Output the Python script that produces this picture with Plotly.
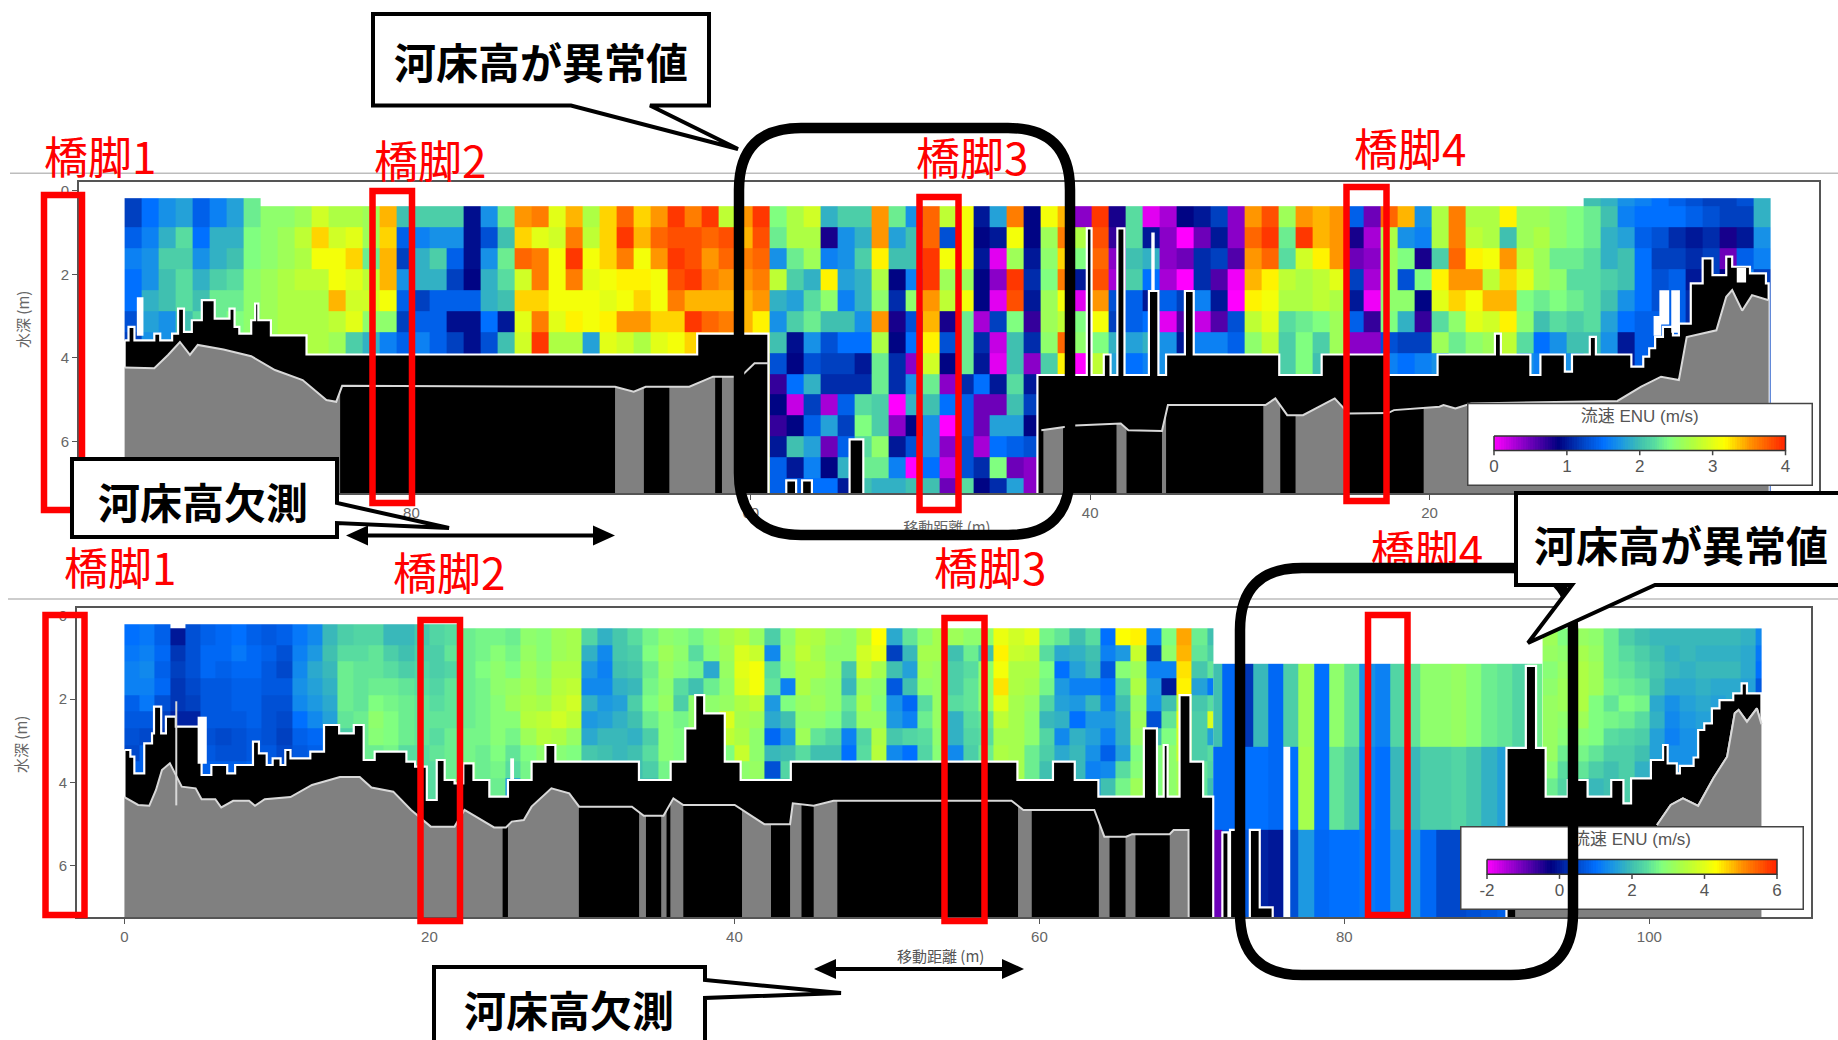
import numpy as np
import plotly.graph_objects as go

W, H = 1838, 1040

# ---------- upper panel: speed columns listed left to right (m/s), 1 m wide, rows 0.5 m
top_cols = [
 [1.2,1.4,1.6,1.5,1.5,1.3,1.2],[1.5,1.6,1.7,1.7,1.9,1.8,1.7],[1.7,1.9,2.1,2.0,2.0,1.7,1.7],[1.8,2.2,2.1,2.2,2.2,2.0,2.0],
 [1.4,1.5,1.7,1.9,2.0,2.2,2.2],[1.6,1.9,1.9,2.1,2.3,2.3,2.3],[1.8,1.9,2.0,2.2,2.3,2.4,2.4],[2.3,2.4,2.4,2.5,2.5,2.5,2.5],
 [2.5,2.5,2.5,2.6,2.6,2.6,2.6],[2.5,2.6,2.6,2.7,2.7,2.7,2.7],[2.6,2.8,2.7,2.8,2.7,2.7,2.7],[2.9,3.3,3.1,2.8,2.7,2.7,2.7],
 [2.7,2.9,3.1,3.1,3.4,2.8,2.6],[2.7,3.0,3.3,3.0,2.9,3.0,2.1],[2.6,2.6,2.3,2.8,2.9,2.5,1.9],[3.4,3.3,3.4,3.4,3.1,2.5,1.6],
 [2.0,1.4,1.2,1.7,1.4,1.2,1.4],[2.1,1.6,1.9,1.9,1.2,1.4,1.6],[2.1,1.7,2.1,1.9,1.4,1.4,1.4],[2.1,1.7,1.4,1.2,1.4,.95,1.2],
 [.95,.95,.95,.9,1.4,.95,.95],[1.7,1.3,1.7,1.9,1.9,1.5,1.3],[2.3,2.0,2.3,2.2,2.0,1.0,2.0],[3.5,3.3,3.7,2.9,3.3,3.0,2.9],
 [3.6,3.0,3.6,3.6,3.3,3.6,3.9],[3.0,2.9,3.1,3.1,3.1,3.0,2.7],[3.4,3.6,3.9,3.6,3.1,3.2,2.7],[2.7,2.8,3.1,3.0,3.1,3.1,1.8],
 [3.3,3.3,3.3,3.1,3.0,3.2,3.0],[3.7,3.9,3.6,3.2,3.1,3.5,2.9],[3.3,3.4,3.1,3.2,3.3,3.5,2.7],[3.5,3.7,3.5,3.1,3.1,3.3,3.0],
 [3.9,3.8,3.9,3.8,3.6,3.3,3.1],[3.6,3.8,3.8,3.9,3.4,3.9,3.3],[3.9,3.7,3.5,3.6,3.4,3.7,3.4],[2.8,3.8,3.7,3.5,3.4,3.6,3.4],
 [3.5,3.4,3.6,3.5,3.4,3.4,3.4],[3.9,3.8,3.7,3.6,3.5,3.2,3.2],
 [2.4,2.3,1.7,2.8,1.9,1.7,2.0,1.3,.7,.9,.7,1.0,1.4,1.4],[2.7,2.7,2.3,2.1,1.8,2.1,.95,.9,1.5,.2,.9,2.0,1.0,1.4],
 [2.9,2.7,2.6,1.9,2.2,2.3,1.7,1.3,1.9,1.2,1.4,1.8,1.6,1.5],[1.9,.8,1.6,3.2,2.5,2.0,1.3,1.2,1.1,.3,1.8,.5,.9,1.5],
 [2.1,1.7,1.7,1.8,1.6,2.0,1.5,1.2,1.1,1.4,1.2,1.4,1.9,1.0],[2.1,1.9,2.1,1.9,1.9,1.7,1.5,1.0,1.1,2.2,2.4,2.2,2.3,2.0],
 [3.5,3.5,3.2,2.7,2.5,3.5,2.7,2.3,2.3,2.1,2.1,2.5,2.3,1.9],[2.3,1.8,2.0,.9,1.1,.8,.9,1.1,1.1,0,.4,1.0,1.6,1.9],
 [1.7,2.0,2.0,1.6,2.5,1.3,1.5,.4,1.7,1.9,.9,1.3,0,2.0],[3.7,3.7,3.9,3.9,3.5,3.4,3.2,2.9,2.3,2.0,1.7,1.7,1.5,2.0],
 [2.8,1.3,3.1,2.6,2.8,.8,1.3,.9,.4,1.5,0,.4,.2,.5],[3.1,3.1,3.1,2.6,3.1,2.3,2.3,2.3,1.1,1.4,1.4,1.3,1.3,2.2],
 [1.0,.9,1.0,.9,.9,.3,1.1,1.0,1.5,.5,.5,.3,1.1,.9],[1.8,1.0,.1,.4,.1,1.2,.2,.1,1.0,.5,1.8,1.5,2.4,1.1],
 [3.6,3.1,2.6,3.9,3.8,2.4,2.0,2.0,2.2,2.0,1.8,1.4,.5,1.8],[.9,.9,1.0,1.1,1.0,.7,1.1,.4,1.0,1.2,.9,1.3,.4,.4],
 [3.1,2.6,2.5,2.4,2.6,2.6,2.5,2.1],[3.4,3.6,3.3,3.6,3.1,2.8,3.7,3.2],[.4,2.7,2.4,1.0,.1,2.4,2.5,0.0],
 [3.9,3.8,3.7,3.8,3.5,3.1,2.4,2.8],[.8,.7,.4,.3,1.3,1.2,1.9,1.8],[2.2,2.2,2.0,2.1,1.4,1.4,1.8,1.5],
 [.1,1.0,1.9,1.5,1.0,1.5,1.9,1.6],[.3,.4,.4,.3,1.4,.1,1.7,1.7],[.9,.0,.5,.0,1.2,.6,1.0,1.7],[1.0,.5,1.1,1.1,1.6,.2,1.6,1.7],
 [1.2,1.0,1.2,.6,1.0,.6,1.6,1.8],[.4,.4,.6,.05,.0,1.3,1.4],[3.5,3.7,3.5,3.4,3.2,2.8,2.5],[3.8,3.9,3.7,3.2,3.1,3.0,2.8],
 [2.6,2.3,2.2,2.8,2.7,2.2,2.1,2.1],[3.5,3.9,2.9,2.7,2.7,2.3,2.4,2.4],[3.4,3.4,3.2,2.8,2.8,2.4,2.1,2.0],[3.5,3.5,3.5,3.0,2.7,2.6,2.6],
 [1.4,.8,.5,1.2,1.0,1.4,.4],[.5,.3,.4,.3,.05,.7,.4],[3.7,2.7,2.6,2.6,2.5,2.4,1.3,1.6],[3.4,1.7,2.4,1.3,2.5,1.9,1.2,1.5],
 [1.7,1.6,.8,2.4,.9,.7,1.2,1.6],[2.7,2.7,2.1,3.2,3.0,2.2,2.6,1.7],[3.6,3.6,3.7,3.5,3.3,2.5,2.3],[2.7,2.8,3.2,3.5,3.1,3.0,2.5],
 [2.7,2.7,3.1,2.8,3.4,2.9,2.6],[3.2,2.0,3.5,3.3,3.4,3.2,2.8],[2.6,2.6,2.8,3.0,2.4,2.5,2.2,1.7],[2.6,2.7,2.6,2.6,2.3,2.0,1.5,1.6],
 [2.5,2.5,2.3,2.5,2.4,2.2,1.7],[2.4,2.4,2.3,2.2,2.3,2.1,2.0,1.7],[2.3,2.3,2.2,2.2,2.2,2.2,2.0],[2.0,1.9,1.9,2.1,2.0,1.8,1.7],
 [1.6,1.8,2.0,2.0,1.7,1.5,1.0],[1.5,1.4,1.5,1.5,1.5,1.4,1.4,1.4],[1.5,1.3,1.2,1.3,1.3,1.4],[1.5,1.1,1.2,1.4,1.4],
 [1.4,1.0,1.1,1.0,1.1],[1.3,1.1,1.2,1.2],[1.2,.8,.5,.9],[1.2,1.0,1.4,1.6],[1.9,1.7,1.6,1.2],
]
top_extra_left = [1.2,1.5,1.7,1.8,1.4,1.6,1.8,2.3]
top_extra_right = [2.0,1.9,1.7,1.6,1.5,1.4,1.3,1.2,1.2,1.3,1.9]
# positions below are metres from the left end of the upper run
top_mask_pos = [0,.23,.58,1.75,2.1,2.8,3.15,3.5,3.96,4.55,5.31,6.18,6.48,6.76,7.46,7.69,7.88,8.62,10.72,33.74,37.94,38.99,39.57,39.92,40.5,42.72,43.53,53.79,56.7,56.98,57.7,58.1,58.5,58.92,60.36,60.92,61.37,62.48,63.0,68.04,70.54,74.45,77.37,80.75,81.1,82.84,83.43,84.87,85.29,86.34,86.7,88.79,89.49,89.84,90.19,90.65,91.24,91.59,92.29,92.99,93.57,94.38,94.73,95.78,96.72,96.88]
top_mask_depth = [3.58,3.26,3.58,3.42,3.58,3.42,2.82,3.38,3.1,2.62,3.06,2.82,3.26,3.42,3.1,2.7,3.1,3.46,3.92,3.42,7.5,6.93,7.5,6.93,7.5,5.95,7.5,4.41,.9,4.41,3.92,4.41,.9,4.41,2.4,4.41,3.92,2.4,3.92,4.41,3.92,4.41,3.92,3.42,3.92,4.41,3.92,4.33,3.92,3.5,3.92,4.21,3.97,3.77,3.5,3.26,3.46,3.18,2.22,1.62,2.02,1.58,1.82,1.98,2.22]
top_bed_pos1 = [0,1.75,2.56,3.26,3.85,4.31,5.83,7.46,8.86,10.49,11.89,12.47,12.82,28.9,30.0,30.71,33.28,34.67,36.3,37.12,37.94]
top_bed_d1 = [4.23,4.25,3.93,3.62,3.93,3.69,3.8,3.96,4.29,4.53,5.01,5.05,4.67,4.69,4.81,4.69,4.69,4.45,4.45,4.13,4.13]
top_bed_pos2 = [54.02,55.19,56,58.7,59.15,61.13,61.48,67.23,67.81,68.51,69.44,71.31,72.12,74.45,74.8,77.48,77.72,78.42,79.35,87.97,89.37,90.54,91.59,92.05,93.8,94.38,94.73,95.32,95.9,96.88]
top_bed_d2 = [5.73,5.66,5.62,5.57,5.73,5.75,5.13,5.13,4.97,5.37,5.37,4.97,5.33,5.32,5.25,5.17,5.13,5.21,5.09,5.03,4.69,4.45,4.53,3.5,3.34,2.54,2.38,2.87,2.5,2.62]
top_gray = [(0,12.7),(28.9,30.6),(32.1,34.8),(35.2,36.5),(54.14,55.3),(58.45,59.04),(61.13,61.37),(67.1,68.1),(69,72.1),(76.55,96.88)]
top_white = [(.72,1.11,2.55,3.47),(60.5,60.7,1.0,2.38),(90.1,90.55,3.0,3.47),(90.44,91.02,2.38,3.2),(91.14,91.65,2.38,3.4),(95.0,95.55,1.85,2.2)]

# ---------- lower panel
bot_cols = [
 [1.0,1.1,1.2,1.2,.8,.7,.6,.5,.8],[1.1,1.2,1.3,1.2,1.1,.7,.5,.8,.8],[.8,.9,.8,.9,.6,.4,.3,.3],[0,.3,.4,.3,.3,.1,0,0],[.6,.6,.6,.5,.4,.1,.1],
 [.8,.9,.9,.7,.7,.7,.6,.7,.8],[.9,.9,.8,.7,.7,.7,.5,.6,.8],[1.0,1.1,.9,.8,.8,.7,.6,.6,.8],[.8,.9,.9,.8,.8,.8,.7,.7,.9],[.7,.8,.7,.7,.6,.6,.6,.7,.8],
 [.8,.6,.5,.7,.6,.5,.4,.5,.6],[1.1,1.2,1.3,1.4,1.3,1.0,.8,.7,.7],[1.3,1.5,1.7,1.6,1.5,1.3,.9,.8],[1.9,2.0,1.9,1.8,1.7,1.6,1.2],[2.2,2.4,2.6,2.6,2.6,2.5,2.2],
 [2.3,2.4,2.5,2.5,2.5,2.6,2.6],[2.3,2.5,2.5,2.6,2.8,3.0,2.9,2.6],[1.9,2.2,2.4,2.6,2.7,2.8,2.8,2.7],[1.9,2.0,2.2,2.5,2.6,2.6,2.6,2.4,2.3],[2.1,2.2,2.3,2.4,2.5,2.5,2.5,2.4,2.4],
 [2.3,2.2,2.2,2.3,2.4,2.5,2.4,2.5,2.4],[2.4,2.5,2.3,2.5,2.5,2.5,2.6,2.6,2.6,2.7],[2.6,2.6,2.6,2.6,2.6,2.6,2.7,2.7,2.8,2.7],[2.7,2.7,2.8,2.7,2.7,2.7,2.7,2.6,2.6,2.6,2.6],[2.7,2.9,3.0,3.0,2.9,2.9,2.9,2.8,2.7,2.6,2.6],
 [2.6,2.7,2.8,3.1,3.2,2.9,2.7,2.5,2.4,1.5],[3.0,3.1,3.2,3.3,3.4,3.5,3.2,2.8,2.7],[2.9,2.9,3.0,3.1,3.3,3.6,3.5,3.0,2.4],[3.2,3.2,3.4,3.5,3.6,3.8,3.4,2.9,2.5],[3.3,3.3,3.4,3.6,3.8,3.6,3.1,2.8,2.5],
 [2.3,1.8,1.5,1.3,1.8,1.5,1.7,2.1,1.8],[1.8,1.3,1.2,1.3,1.5,1.6,1.9,2.0,2.0],[2.1,2.1,2.0,1.8,1.6,1.8,1.9,1.9,2.0],[2.4,2.2,2.1,1.9,2.2,2.0,1.8,2.0,2.0,2.1],[2.7,2.8,2.6,2.7,2.8,2.6,2.2,2.4,2.2,2.0],
 [3.0,3.2,3.1,3.0,3.1,2.9,2.9,2.9,2.7,2.7],[2.9,3.0,2.9,2.4,2.2,2.7,2.8,2.8],[2.7,2.4,2.7,2.0,3.0,3.0],[3.0,2.9,1.7,2.6,3.0,3.0],[3.3,3.2,3.1,3.0,3.1,3.9,3.6,2.8],
 [3.5,3.9,4.0,3.9,3.4,3.3,3.4,3.7,3.0],[3.1,3.7,4.2,4.2,3.6,3.2,3.0,3.0,3.1,3.0],[2.2,1.3,2.4,2.5,1.5,1.7,.9,1.9,.6,1.5],[3.0,3.1,3.0,1.2,2.8,2.0,1.5,2.0,2.3,2.2],[3.5,3.6,3.4,3.4,3.1,3.0,3.2,2.4],
 [3.4,3.3,3.4,3.1,3.2,3.0,2.5,2.0],[3.1,3.0,3.1,3.0,3.0,2.8,2.3,2.0],[3.0,3.0,2.1,1.9,2.5,2.3,1.2,1.0],[3.5,3.8,3.7,3.1,3.3,3.1,2.3,2.4],[4.3,4.1,3.3,3.0,2.9,3.1,3.4,3.5],
 [1.7,.4,2.0,.7,1.4,1.5,2.1,1.3],[2.5,1.9,1.6,2.0,.9,1.2,2.3,1.0],[3.0,3.3,3.2,3.0,2.4,2.6,2.4,2.3],[3.3,3.3,3.1,3.1,3.1,3.1,3.0,2.9],[3.2,2.0,2.2,2.2,2.4,1.8,1.8,1.3],
 [3.0,2.6,2.4,2.5,2.5,2.4,2.3,2.2],[3.0,2.0,3.0,3.0,3.0,2.5,2.4,2.6],[4.1,4.4,4.2,4.5,4.0,3.6,3.3,3.4],[3.8,3.7,3.4,3.4,3.3,3.3,3.3,3.3],[4.0,3.6,3.4,3.3,3.1,3.0,3.0,2.6,2.6],
 [2.7,2.4,2.8,2.7,2.3,1.9,2.3,2.2,2.0],[2.5,1.7,1.0,1.5,1.6,1.8,1.3,1.7,1.9],[2.0,1.8,1.6,1.2,1.5,1.0,1.8,1.9,1.9],[2.4,2.0,1.9,1.2,1.9,1.5,1.6,1.4,1.2,1.3],[1.0,1.2,.7,1.0,1.2,1.5,1.2,.8,1.3,2.0],
 [4.3,1.5,2.9,2.3,2.0,1.8,1.8,1.6,2.4,2.7],[4.4,3.7,3.2,3.4,3.1,3.2,3.1,2.8,2.9,3.2],[1.2,.4,1.2,1.5,1.4,.6,2.0,2.8,2.8,2.8],[2.8,3.0,1.2,0,2.0,2.5,2.8,3.0],[4.9,4.8,4.5,4.4,3.6,4.1,3.8,3.7,3.3],
 [2.6,2.5,2.1,1.6,2.1,2.2,2.2,2.2,2.5],[2.0,2.2,2.5,1.1,2.4,3.9,1.6,2.4,2.3,2.0],[4.2,3.8,3.1,2.4,2.4,2.4],
]
bot_extra_left = [1.0,1.1,.8,None,.6,.8,.9,1.0,.8,.7,.8,1.1,1.3,1.9,2.2,2.3,2.3,1.9,1.9,2.1,2.3,2.4]
anom_edges = [71.4,72,73,74,75,76,77,78,79,80,81,82,83,84,85,86,87,88,89,90,91,92,93]
anom_row1 = [2.0,.9,.3,1.9,.9,2.2,3.2,1.0,3.0,2.5,1.4,1.2,2.3,2.5,3.0,3.0,3.1,2.9,2.6,2.5,2.3,2.6]
anom_row2 = [.9,.9,1.0,1.0,.9,1.0,3.3,1.0,2.5,2.2,1.2,1.0,1.9,1.9,2.2,2.2,2.3,2.1,1.8,1.6,1.5,1.5]
anom_row3 = [-1.0,.7,.7,.1,0,.6,1.5,.9,1.0,1.0,1.1,1.0,1.6,1.5,.9,.5,.5,.6,.7,.8,1.0,1.0]
right_cols = [
 [3.2,3.1,2.9,3.0,3.1,3.1,3.1,3.1,2.9,2.6],[2.8,3.0,3.1,3.2,3.2,3.0,2.9,2.6,2.4,2.3],[3.1,3.3,3.4,3.4,3.4,3.2,2.9,2.7,2.5,2.2],[3.0,3.1,3.2,3.2,2.8,2.8,2.8,2.5,2.2,1.9],
 [2.6,2.6,2.6,2.7,2.5,2.7,2.4,2.2,2.0,2.0],[2.2,2.4,2.5,2.6,2.8,2.6,2.3,2.2,2.2],[2.0,2.2,2.3,2.5,2.7,2.4,2.2,2.0,1.8],[1.9,2.0,2.1,2.0,1.7,1.8,1.6,1.6],
 [1.9,1.8,1.9,1.7,1.4,1.3,1.2,1.4],[1.9,1.9,1.8,1.7,1.6,1.5,1.4,1.4],[1.9,1.8,1.9,1.8,1.7,1.6,1.5],[1.9,1.8,1.9,1.7,1.6],[1.9,1.8,1.9,1.7],[1.8,1.7,1.7,1.6],[1.3,1.1,1.0,.7],
]
bot_mask_x = [0,.39,.65,1.3,1.81,1.94,2.41,2.72,3.37,5.06,5.7,6.74,7.26,8.43,8.82,9.33,9.72,10.24,10.55,10.89,12.19,13.09,14.08,15.04,15.69,16.41,18.49,19.06,19.83,20.48,21.0,21.65,22.22,22.89,23.93,25.15,26.7,27.61,28.26,33.74,35.82,36.78,37.43,38.02,39.37,40.41,43.7,58.56,60.89,62.32,63.87,66.85,67.71,68.15,68.41,69.19,69.91,70.74,71.4,72.0,72.4,72.5,73.4,73.8,74.45,75.3,90.63,91.9,92.57,93.2,94.65,95.95,97.5,98.3,98.8,100.1,100.9,101.2,101.8,102.0,102.9,103.2,103.6,104.1,104.6,105.5,106.05,106.4,107.35]
bot_mask_d = [3.22,3.38,3.78,3.06,2.82,2.18,2.82,2.42,2.66,3.82,3.58,3.78,3.58,3.02,3.3,3.58,3.42,3.58,3.22,3.42,3.26,2.62,2.82,2.62,3.46,3.26,3.5,3.62,4.42,3.46,3.94,4.02,3.54,3.94,4.34,3.94,3.5,3.1,3.5,3.94,3.5,2.7,1.9,2.34,3.5,3.94,3.5,3.94,3.5,3.94,4.34,2.7,4.34,3.1,4.34,1.9,3.5,4.34,7.5,5.2,7.5,5.14,7.5,5.14,7.0,7.5,3.17,1.2,3.17,4.34,3.94,4.34,3.94,4.5,3.9,3.46,3.1,3.54,3.78,3.6,3.4,2.74,2.58,2.22,2.02,1.86,1.62,1.86]
bot_bed_x1 = [0,.9,1.63,2.07,2.46,2.98,3.76,4.67,5.06,5.96,6.35,7.13,8.17,8.56,9.2,10.89,12.3,14.13,15.43,16.2,17.63,18.8,20.09,21.65,22.3,24.24,25.02,25.4,26.19,26.7,28.0,29.17,29.82,33.28,34.06,35.35,36.0,36.65,40.02,41.96,43.65,43.83,45.2,46.5,58.17,58.95,63.6,64.26,65.69,66.08,68.54,68.8,69.78,69.79]
bot_bed_d1 = [4.35,4.54,4.56,4.18,3.7,3.54,4.1,4.14,4.4,4.4,4.6,4.44,4.44,4.56,4.4,4.35,4.06,3.87,3.87,4.12,4.22,4.66,5.06,5.06,4.66,5.08,5.08,4.94,4.9,4.58,4.14,4.26,4.58,4.58,4.8,4.8,4.38,4.54,4.54,5.0,5.0,4.5,4.56,4.44,4.44,4.66,4.66,5.3,5.3,5.24,5.24,5.14,5.14,7.5]
bot_bed_x2 = [100.5,101.4,102.2,103.2,104.2,105.1,105.6,105.85,106.4,107.05,107.35]
bot_bed_d2 = [5.02,4.54,4.38,4.56,3.9,3.38,2.34,2.26,2.54,2.22,2.6]
bot_hidden_x = [91.2,100.5]
bot_hidden_d = [5.3,5.1]
bot_gray = [(0,24.8),(25.15,29.8),(33.75,34.2),(35.2,35.55),(35.8,36.65),(40.5,42.4),(43.65,44.4),(45.2,46.75),(58.6,59.5),(63.9,64.6),(65.65,66.3),(68.55,69.78)]
bot_white = [(4.8,5.4,2.42,3.55),(25.3,25.55,3.42,3.94),(76.0,76.45,3.14,7.3),(72.42,72.52,5.2,7.3)]
speed_ticks_top = [0,1,2,3,4]
speed_ticks_bot = [-2,0,2,4,6]
top_xticks = [0,20,40,60,80]
bot_xticks = [0,20,40,60,80,100]
depth_ticks = [0,2,4,6]

# ---------- styling
SCALE = [[0,'#ff00ff'],[.1,'#8a00c8'],[.22,'#000080'],[.3,'#0040c0'],[.375,'#0070ff'],[.44,'#1e9be0'],[.5,'#40c0b0'],[.55,'#58dca0'],
         [.6,'#80ff80'],[.68,'#b0ff40'],[.79,'#ffff00'],[.88,'#ff9000'],[1,'#ff2000']]
FONT = 'Liberation Sans, Noto Sans CJK JP'
CJK = 'Noto Sans CJK JP'
GRAY_TXT = '#666666'

def pad(cols, n):
    return [list(c) + [c[-1]] * (n - len(c)) for c in cols]
def X(px): return px / W
def Y(py): return 1 - py / H
def pth(points, close=True):
    s = 'M ' + ' L '.join(f'{X(x):.5f} {Y(y):.5f}' for x, y in points)
    return s + (' Z' if close else '')
def stairs(xs, ds):
    ox, oy = [], []
    for k, d in enumerate(ds):
        ox += [xs[k], xs[k + 1]]
        oy += [d, d]
    return ox, oy

fig = go.Figure()
AX = dict(showgrid=False, zeroline=False, showline=True, mirror=True, linecolor='#555555', linewidth=2,
          ticks='outside', ticklen=5, tickcolor='#555555', tickfont=dict(family=FONT, size=15, color=GRAY_TXT))
TOP_LEG_X = [-27 / 72.9, 4 + 27.5 / 72.9]
BOT_LEG_X = [-2 - 27 / 36.25, 6 + 27 / 36.25]
fig.update_layout(
    width=W, height=H, margin=dict(l=0, r=0, t=0, b=0), autosize=False, showlegend=False,
    paper_bgcolor='white', plot_bgcolor='rgba(0,0,0,0)', font=dict(family=FONT),
    xaxis=dict(AX, domain=[X(79), X(1819)], range=[(1769 - 79) / 16.97, (1769 - 1819) / 16.97], tickvals=top_xticks, anchor='y'),
    yaxis=dict(AX, domain=[Y(493.3), Y(182.3)], range=[7.24, -.2], tickvals=depth_ticks, anchor='x'),
    xaxis2=dict(AX, domain=[X(77), X(1811)], range=[-3.11, 110.6], tickvals=bot_xticks, anchor='y2'),
    yaxis2=dict(AX, domain=[Y(917), Y(608)], range=[7.23, -.19], tickvals=depth_ticks, anchor='x2'),
    # legend boxes first, then the bars on axes that lie above them
    xaxis3=dict(domain=[X(1467), X(1813)], range=TOP_LEG_X, visible=False, anchor='y3'),
    yaxis3=dict(domain=[Y(486), Y(402.7)], range=[1, 0], visible=False, anchor='x3'),
    xaxis4=dict(domain=[X(1460), X(1804)], range=BOT_LEG_X, visible=False, anchor='y4'),
    yaxis4=dict(domain=[Y(910), Y(826)], range=[1, 0], visible=False, anchor='x4'),
    xaxis5=dict(domain=[X(1467), X(1813)], range=TOP_LEG_X, visible=False, anchor='y5'),
    yaxis5=dict(domain=[Y(486), Y(402.7)], range=[1, 0], visible=False, anchor='x5'),
    xaxis6=dict(domain=[X(1460), X(1804)], range=BOT_LEG_X, visible=False, anchor='y6'),
    yaxis6=dict(domain=[Y(910), Y(826)], range=[1, 0], visible=False, anchor='x6'),
    xaxis7=dict(domain=[0, 1], range=[0, W], visible=False, anchor='y7'),
    yaxis7=dict(domain=[0, 1], range=[H, 0], visible=False, anchor='x7'),
)

def panel(xa, ya, to_x, grids, mask_x, mask_d, bed_segments, gray, white):
    for xe, ye, z, zmin, zmax in grids:
        fig.add_trace(go.Heatmap(x=xe, y=ye, z=z, zmin=zmin, zmax=zmax, colorscale=SCALE, showscale=False,
                                 hoverongaps=False, xaxis=xa, yaxis=ya))
    sx, sy = stairs(to_x(np.array(mask_x)).tolist(), mask_d)
    fig.add_trace(go.Scatter(x=sx + [sx[-1], sx[0], sx[0]], y=sy + [7.6, 7.6, sy[0]], mode='lines', fill='toself', fillcolor='black',
                             line=dict(color='white', width=2.2), xaxis=xa, yaxis=ya))
    allx = np.concatenate([s[0] for s in bed_segments])
    alld = np.concatenate([s[1] for s in bed_segments])
    for a, b in gray:
        inner = allx[(allx > a) & (allx < b)]
        gx = np.concatenate([[a], inner, [b]])
        gd = np.interp(gx, allx, alld)
        fig.add_trace(go.Scatter(x=to_x(np.concatenate([gx, [b, a]])).tolist(), y=np.concatenate([gd, [7.6, 7.6]]).tolist(),
                                 mode='lines', fill='toself', fillcolor='#808080', line=dict(width=0), xaxis=xa, yaxis=ya))
    for segx, segd in bed_segments:
        fig.add_trace(go.Scatter(x=to_x(np.array(segx)).tolist(), y=list(segd), mode='lines',
                                 line=dict(color='#d8d8d8', width=2), xaxis=xa, yaxis=ya))
    for a, b, d0, d1 in white:
        xa0, xa1 = to_x(np.array([a, b])).tolist()
        fig.add_trace(go.Scatter(x=[xa0, xa1, xa1, xa0, xa0], y=[d0, d0, d1, d1, d0], mode='lines', fill='toself',
                                 fillcolor='white', line=dict(width=0), xaxis=xa, yaxis=ya))

# upper panel grids
T0 = 96.9
top_to_x = lambda p: T0 - p
t_full = np.array(pad(top_cols, 14), dtype=float).T
t_edges = np.arange(len(top_cols) + 1)[::-1]
t_x = (T0 - t_edges).astype(float)                # increasing metres
t_z = t_full[:, ::-1]
t_y = np.concatenate([[.38 + .5 * k for k in range(14)], [7.4]])
extra = [None] * len(top_cols)
extra[:len(top_extra_left)] = top_extra_left
extra[-len(top_extra_right):] = top_extra_right
t_z2 = [list(np.array(extra, dtype=float)[::-1])] + t_z.tolist()
t_y2 = np.concatenate([[.18], t_y]).tolist()
panel('x', 'y', top_to_x, [(t_x.tolist(), t_y2, t_z2, 0, 4)], top_mask_pos, top_mask_depth,
      [(np.array(top_bed_pos1), np.array(top_bed_d1)), (np.array(top_bed_pos2), np.array(top_bed_d2))], top_gray, top_white)

# lower panel grids
bot_id = lambda p: p
b_z = np.array(pad(bot_cols, 11), dtype=float).T
b_x = list(range(len(bot_cols))) + [71.4]
b_y = [.3 + .4 * k for k in range(12)]
be = bot_extra_left + [None] * (len(bot_cols) - len(bot_extra_left))
g1 = (b_x, [.2] + b_y, [be] + b_z.tolist(), -2, 6)
g2 = (anom_edges, [1.15, 3.14, 5.14, 7.3], [anom_row1, anom_row2, anom_row3], -2, 6)
r_z = np.array(pad(right_cols, 11), dtype=float).T
g3 = (list(range(93, 93 + len(right_cols))) + [107.35], b_y, r_z.tolist(), -2, 6)
panel('x2', 'y2', bot_id, [g1, g2, g3], bot_mask_x, bot_mask_d,
      [(np.array(bot_bed_x1), np.array(bot_bed_d1)), (np.array(bot_bed_x2), np.array(bot_bed_d2))],
      bot_gray, bot_white)
# hidden bed stretch under the lower legend, grey from there to the bank
hx = np.concatenate([bot_hidden_x, bot_bed_x2])
hd = np.concatenate([bot_hidden_d, bot_bed_d2])
fig.add_trace(go.Scatter(x=hx.tolist() + [hx[-1], hx[0], hx[0]], y=hd.tolist() + [7.6, 7.6, hd[0]], mode='lines', fill='toself',
                         fillcolor='#808080', line=dict(width=0), xaxis='x2', yaxis='y2'))
fig.add_trace(go.Scatter(x=list(bot_bed_x2), y=list(bot_bed_d2), mode='lines', line=dict(color='#d8d8d8', width=2), xaxis='x2', yaxis='y2'))
fig.add_trace(go.Scatter(x=[3.4, 3.4], y=[2.05, 4.55], mode='lines', line=dict(color='#d8d8d8', width=2), xaxis='x2', yaxis='y2'))

# legends: white box on one axes pair, bar and labels on a later pair above it
def legend(box_x, box_y, xa, ya, xr, lo, hi, ticks):
    fig.add_trace(go.Scatter(x=[xr[0], xr[1], xr[1], xr[0], xr[0]], y=[0, 0, 1, 1, 0], mode='lines', fill='toself', fillcolor='white',
                             line=dict(color='#444444', width=3), cliponaxis=False, xaxis=box_x, yaxis=box_y))
    n = 120
    edges = np.linspace(lo, hi, n + 1)
    fig.add_trace(go.Heatmap(x=edges.tolist(), y=[.4, .575], z=[((edges[:-1] + edges[1:]) / 2).tolist()], zmin=lo, zmax=hi,
                             colorscale=SCALE, showscale=False, xaxis=xa, yaxis=ya))
    fig.add_trace(go.Scatter(x=[lo, hi, hi, lo, lo], y=[.4, .4, .575, .575, .4], mode='lines', line=dict(color='#333333', width=1.5), xaxis=xa, yaxis=ya))
    tx, ty = [], []
    for t in ticks:
        tx += [t, t, None]
        ty += [.575, .63, None]
    fig.add_trace(go.Scatter(x=tx, y=ty, mode='lines', line=dict(color='#444444', width=1.5), xaxis=xa, yaxis=ya))
    fig.add_trace(go.Scatter(x=ticks, y=[.78] * len(ticks), mode='text', text=[str(t) for t in ticks],
                             textfont=dict(family=FONT, size=17, color='#555555'), xaxis=xa, yaxis=ya))
    fig.add_trace(go.Scatter(x=[(lo + hi) / 2], y=[.18], mode='text', text=['流速 ENU (m/s)'],
                             textfont=dict(family='Liberation Sans, ' + CJK, size=17, color='#555555'), xaxis=xa, yaxis=ya))
legend('x3', 'y3', 'x5', 'y5', TOP_LEG_X, 0, 4, speed_ticks_top)
legend('x4', 'y4', 'x6', 'y6', BOT_LEG_X, -2, 6, speed_ticks_bot)

# labels that the drawn outlines pass over
under = [(1427, 557, '橋脚4', 44, '#ff0000'), (947, 529, '移動距離 (m)', 15, GRAY_TXT)]
for x, y, t, s, c in under:
    fig.add_trace(go.Scatter(x=[x], y=[y], mode='text', text=[t], cliponaxis=False,
                             textfont=dict(family=CJK, size=s, color=c), xaxis='x7', yaxis='y7'))
fig.update_traces(hoverinfo='skip')

shapes = []
for y, x0 in [(173.3, 10), (599, 8)]:
    shapes.append(dict(type='line', xref='paper', yref='paper', x0=X(x0), x1=1, y0=Y(y), y1=Y(y), line=dict(color='#bdbdbd', width=1.5)))
red_boxes = [(44, 82, 195, 510), (372.5, 412, 191, 503), (919.5, 958.5, 197, 510), (1346.5, 1386.5, 187, 501),
             (45.5, 84.5, 615, 915), (420.5, 460, 620, 921), (944.5, 984.5, 618, 921), (1368, 1407.5, 615, 915)]
for x0, x1, y0, y1 in red_boxes:
    shapes.append(dict(type='rect', xref='paper', yref='paper', x0=X(x0), x1=X(x1), y0=Y(y0), y1=Y(y1), line=dict(color='#ff0000', width=6.5)))
def round_rect(x0, x1, y0, y1, r):
    return (f'M {X(x0 + r)} {Y(y0)} L {X(x1 - r)} {Y(y0)} Q {X(x1)} {Y(y0)} {X(x1)} {Y(y0 + r)} L {X(x1)} {Y(y1 - r)} '
            f'Q {X(x1)} {Y(y1)} {X(x1 - r)} {Y(y1)} L {X(x0 + r)} {Y(y1)} Q {X(x0)} {Y(y1)} {X(x0)} {Y(y1 - r)} '
            f'L {X(x0)} {Y(y0 + r)} Q {X(x0)} {Y(y0)} {X(x0 + r)} {Y(y0)} Z')
for rr in [(739, 1070, 128, 535, 62), (1240, 1573, 568, 975, 62)]:
    shapes.append(dict(type='path', xref='paper', yref='paper', path=round_rect(*rr), line=dict(color='black', width=10.5)))
def dbl_arrow(x0, x1, y):
    L, H_ = 22, 10
    shapes.append(dict(type='line', xref='paper', yref='paper', x0=X(x0 + 10), x1=X(x1 - 10), y0=Y(y), y1=Y(y), line=dict(color='black', width=4)))
    for tip, back in [(x0, x0 + L), (x1, x1 - L)]:
        shapes.append(dict(type='path', xref='paper', yref='paper', fillcolor='black', line=dict(width=0),
                           path=pth([(tip, y), (back, y - H_), (back, y + H_)])))
dbl_arrow(346, 615, 535.5)
dbl_arrow(814, 1024, 969)
callouts = [
    [(373, 14), (709, 14), (709, 105.5), (650, 105.5), (738, 149), (571, 105.5), (373, 105.5)],
    [(72, 459), (337, 459), (337, 503), (449, 528), (337, 523), (337, 537), (72, 537)],
    [(434, 967), (705, 967), (705, 980), (841, 993), (705, 998), (705, 1050), (434, 1050)],
    [(1516, 493), (1845, 493), (1845, 585), (1655, 585), (1528, 643), (1572, 585), (1516, 585)],
]
for c in callouts:
    shapes.append(dict(type='path', xref='paper', yref='paper', path=pth(c), fillcolor='white', line=dict(color='black', width=4)))

notes = []
def note(px, py, text, size, color, weight=None, angle=0, fam=CJK):
    t = f'<b>{text}</b>' if weight else text
    notes.append(dict(xref='paper', yref='paper', x=X(px), y=Y(py), text=t, showarrow=False, xanchor='center', yanchor='middle',
                      textangle=angle, font=dict(family=fam, size=size, color=color)))
for px, py, t in [(100, 155, '橋脚1'), (430, 159, '橋脚2'), (972, 156, '橋脚3'), (1410, 147, '橋脚4'),
                  (119.5, 566, '橋脚1'), (449, 571, '橋脚2'), (990, 566, '橋脚3')]:
    note(px, py, t, 44, '#ff0000')
note(541, 60, '河床高が異常値', 42, 'black', True)
note(203, 500, '河床高欠測', 42, 'black', True)
note(569, 1008, '河床高欠測', 42, 'black', True)
note(1681, 543, '河床高が異常値', 42, 'black', True)
note(22, 320, '水深 (m)', 15, GRAY_TXT, angle=-90)
note(20, 745, '水深 (m)', 15, GRAY_TXT, angle=-90)
note(941, 955, '移動距離 (m)', 15, '#555555')
fig.update_layout(shapes=shapes, annotations=notes)

fig.write_html("out.html", config={'displayModeBar': False},
               post_script="document.body.style.margin='0';document.documentElement.style.overflow='hidden';")
